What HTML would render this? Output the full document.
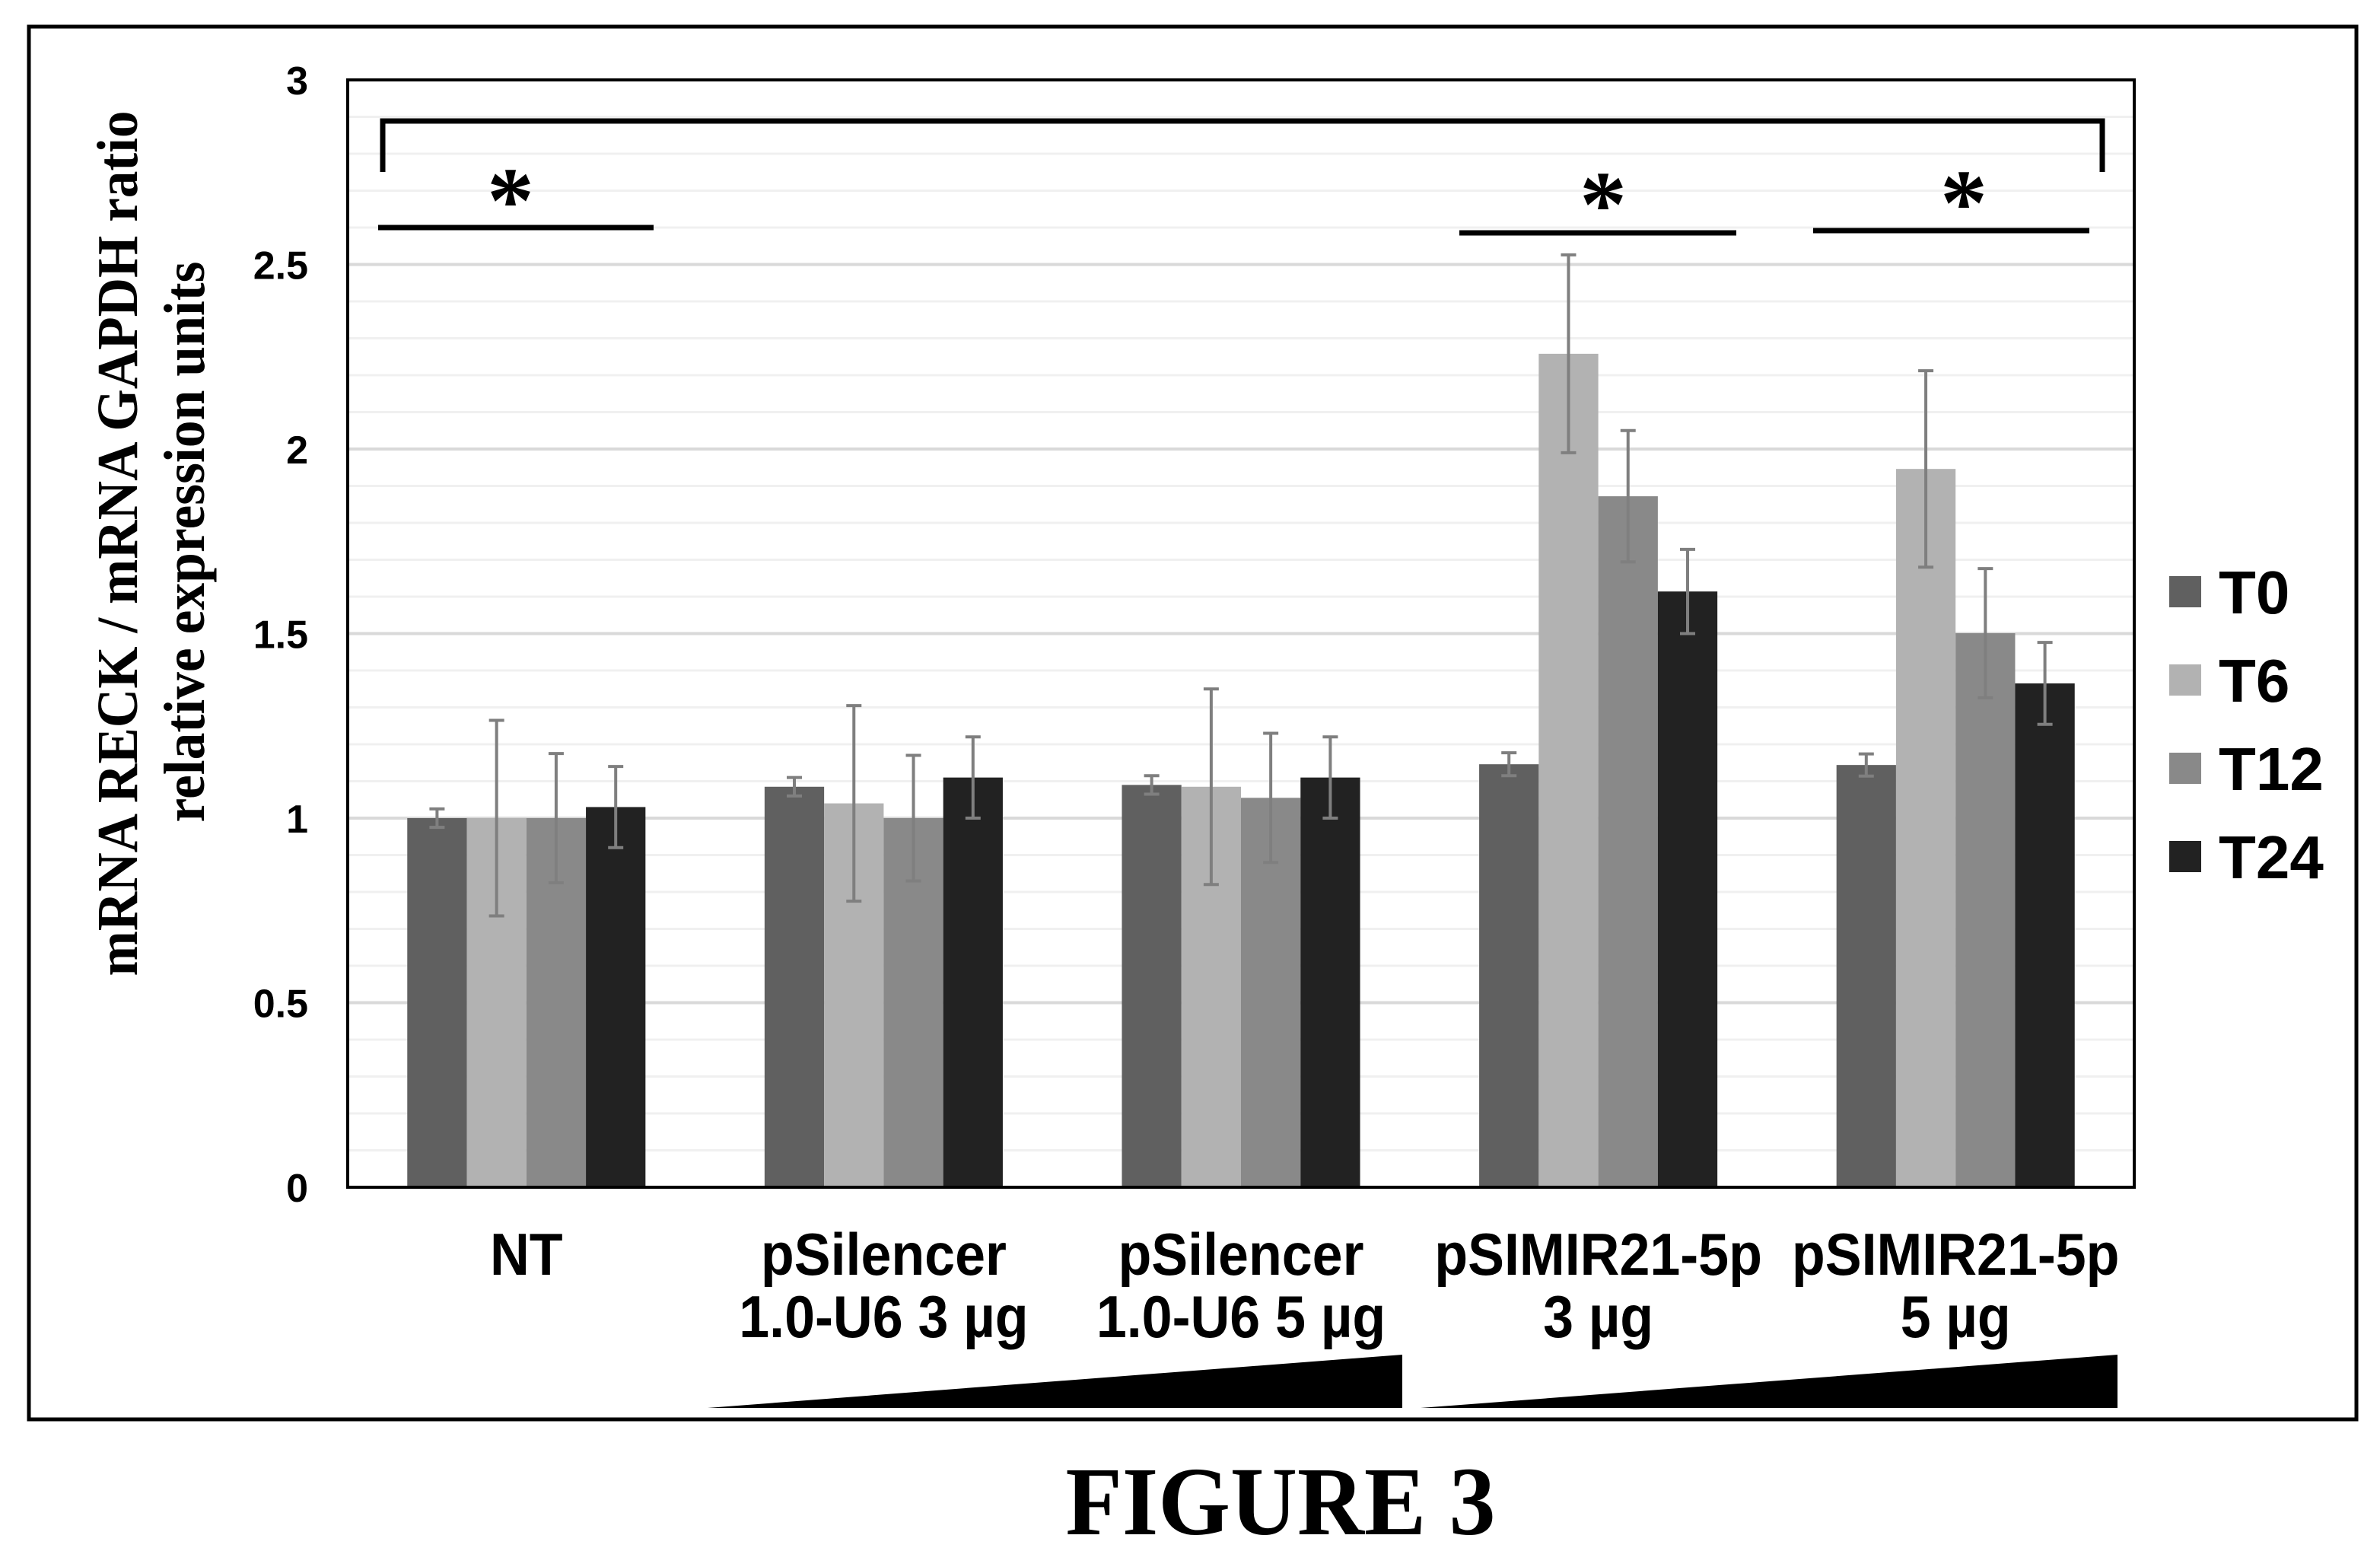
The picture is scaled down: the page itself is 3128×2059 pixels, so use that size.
<!DOCTYPE html>
<html><head><meta charset="utf-8"><style>
html,body{margin:0;padding:0;background:#fff;}
svg{display:block;}
</style></head><body>
<svg id="chart" width="3128" height="2059" viewBox="0 0 3128 2059" xmlns="http://www.w3.org/2000/svg">
<rect x="0" y="0" width="3128" height="2059" fill="#fff"/>
<rect x="38" y="35" width="3059" height="1830" fill="none" stroke="#000" stroke-width="5"/>
<g id="grid"></g>
<g id="bars"></g>
<g id="errs"></g>
<rect x="457" y="105" width="2348" height="1455" fill="none" stroke="#000" stroke-width="4"/>
<g id="yticks" font-family="'Liberation Sans', sans-serif" font-weight="bold" font-size="52" text-anchor="end"></g>
<g id="xlabels" font-family="'Liberation Sans', sans-serif" font-weight="bold" font-size="78" text-anchor="middle"></g>
<g font-family="'Liberation Serif', serif" font-weight="bold" font-size="76" text-anchor="middle">
<text transform="translate(180,714) rotate(-90)" textLength="1137" lengthAdjust="spacingAndGlyphs">mRNA RECK / mRNA GAPDH ratio</text>
<text transform="translate(268,712) rotate(-90)" textLength="737" lengthAdjust="spacingAndGlyphs">relative expression units</text>
</g>
<g stroke="#000" stroke-width="7" fill="none">
<polyline points="503,226 503,159 2763,159 2763,226"/>
<line x1="497" y1="299" x2="859" y2="299"/>
<line x1="1918" y1="306" x2="2282" y2="306"/>
<line x1="2383" y1="303" x2="2746" y2="303"/>
</g>
<g font-family="'Liberation Serif', serif" font-weight="bold" font-size="124" text-anchor="middle">
<text x="671" y="305">*</text>
<text x="2107" y="310">*</text>
<text x="2581" y="308">*</text>
</g>
<polygon points="930,1850 1843,1780 1843,1850" fill="#000"/>
<polygon points="1867,1850 2783,1780 2783,1850" fill="#000"/>
<g id="legend" font-family="'Liberation Sans', sans-serif" font-weight="bold" font-size="80"></g>
<text x="1683" y="2016" text-anchor="middle" font-family="'Liberation Serif', serif" font-weight="bold" font-size="128" textLength="565" lengthAdjust="spacingAndGlyphs">FIGURE 3</text>
</svg>
<script>
const categories = [["NT"], ["pSilencer", "1.0-U6 3 µg"], ["pSilencer", "1.0-U6 5 µg"], ["pSIMIR21-5p", "3 µg"], ["pSIMIR21-5p", "5 µg"]];
const seriesNames = ["T0", "T6", "T12", "T24"];
const seriesColors = ["#606060", "#b2b2b2", "#898989", "#222222"];
const t0Values = [1.0, 1.085, 1.09, 1.146, 1.144];
const t6Values = [1.0, 1.04, 1.085, 2.258, 1.946];
const t12Values = [1.0, 1.0, 1.055, 1.872, 1.501];
const t24Values = [1.03, 1.11, 1.11, 1.614, 1.365];
const t0Errors = [0.025, 0.025, 0.025, 0.031, 0.03];
const t6Errors = [0.265, 0.265, 0.265, 0.268, 0.266];
const t12Errors = [0.175, 0.17, 0.175, 0.178, 0.175];
const t24Errors = [0.11, 0.11, 0.11, 0.114, 0.111];
const yTickLabels = ["0", "0.5", "1", "1.5", "2", "2.5", "3"];
const yTickValues = [0, 0.5, 1, 1.5, 2, 2.5, 3];

const NS = "http://www.w3.org/2000/svg";
const plotL = 457, plotR = 2805, plotT = 105, plotB = 1560, yMax = 3;
function yPos(v) { return plotB - (v / yMax) * (plotB - plotT); }
const groupW = (plotR - plotL) / categories.length;
const barW = groupW / 6;
function xGroupCenter(i) { return plotL + groupW * (i + 0.5); }
function xBar(i, s) { return xGroupCenter(i) - 2 * barW + s * barW; }
function mk(tag, attrs, parent) {
  const e = document.createElementNS(NS, tag);
  for (const k in attrs) e.setAttribute(k, attrs[k]);
  parent.appendChild(e);
  return e;
}
const values = [t0Values, t6Values, t12Values, t24Values];
const errors = [t0Errors, t6Errors, t12Errors, t24Errors];

const grid = document.getElementById('grid');
for (let k = 1; k <= 30; k++) {
  const v = k / 10;
  const major = k % 5 === 0;
  const g = mk('line', {x1: plotL, x2: plotR, y1: yPos(v), y2: yPos(v), stroke: major ? '#d9d9d9' : '#f0f0f0', 'stroke-width': major ? 4 : 3}, grid);
  
  
}

const bars = document.getElementById('bars');
const errs = document.getElementById('errs');
values.forEach((arr, s) => {
  arr.forEach((v, i) => {
    const r = mk('rect', {x: xBar(i, s), y: yPos(v), width: barW, height: yPos(0) - yPos(v), fill: seriesColors[s]}, bars);
    
    
    const cx = xBar(i, s) + barW / 2;
    const e = errors[s][i];
    const eg = mk('g', {stroke: '#7f7f7f', 'stroke-width': 4}, errs);
    
    
    mk('line', {x1: cx, x2: cx, y1: yPos(v + e), y2: yPos(v - e)}, eg);
    mk('line', {x1: cx - 10, x2: cx + 10, y1: yPos(v + e), y2: yPos(v + e)}, eg);
    mk('line', {x1: cx - 10, x2: cx + 10, y1: yPos(v - e), y2: yPos(v - e)}, eg);
  });
});

const yt = document.getElementById('yticks');
yTickValues.forEach((v, k) => {
  const t = mk('text', {x: 405, y: yPos(v) + 19}, yt);
  t.textContent = yTickLabels[k];
  
  
});

const xl = document.getElementById('xlabels');
categories.forEach((lines, i) => {
  const cx = xGroupCenter(i);
  lines.forEach((ln, j) => {
    const t = mk('text', {transform: 'translate(' + cx + ',' + (1675 + j * 82) + ') scale(0.92,1)'}, xl);
    t.textContent = ln;
    
    
  });
});

const lg = document.getElementById('legend');
seriesNames.forEach((n, s) => {
  const cy = 777 + s * 116;
  const g = mk('g', {}, lg);
  
  
  mk('rect', {x: 2851, y: cy - 20, width: 42, height: 41, fill: seriesColors[s]}, g);
  const t = mk('text', {x: 2916, y: cy + 29}, g);
  t.textContent = n;
});
</script>
</body></html>
